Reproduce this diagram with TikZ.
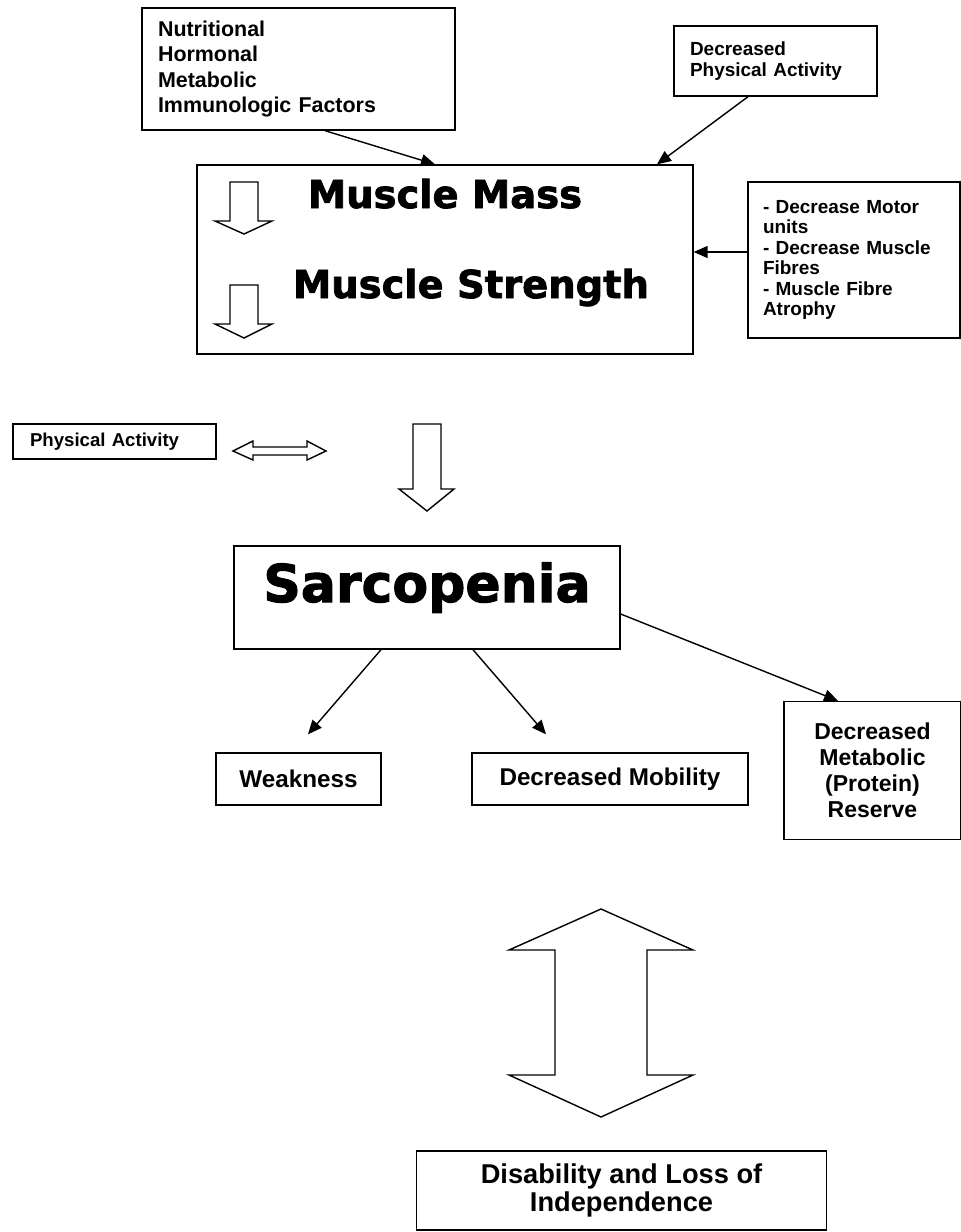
\documentclass[tikz,border=0pt]{standalone}
\usepackage{fontspec}
\setmainfont{Liberation Sans}
\newfontfamily\heavyfont[BoldFeatures={FakeBold=2}]{DejaVu Sans}
\usetikzlibrary{arrows.meta, calc}

\tikzset{
  box/.style={draw, line width=0.8pt, inner sep=0pt},
  link/.style={line width=0.8pt, -{Triangle[length=0.28cm, width=0.24cm]}},
  blockarrow/.style={draw, line width=0.8pt, line join=miter, fill=white}
}

\begin{document}
\begin{tikzpicture}[x=0.02cm, y=-0.02cm]
  \useasboundingbox (0,0) rectangle (961,1232);
  % causes
  \node[box, minimum width=6.26cm, minimum height=2.44cm, text width=5.62cm, align=left,
        font=\bfseries\fontsize{12.2}{14.5}\selectfont] (factors) at (298.5,69)
        {Nutritional\\Hormonal\\Metabolic\\Immunologic Factors};
  \node[box, minimum width=4.06cm, minimum height=1.4cm, text width=3.42cm, align=left,
        font=\bfseries\fontsize{10.8}{12}\selectfont] (inactivity) at (775.5,61)
        {Decreased\\Physical Activity};
  \node[box, minimum width=4.24cm, minimum height=3.12cm, text width=3.64cm, align=left,
        font=\bfseries\fontsize{10.8}{11.7}\selectfont] (motor) at (854,260)
        {- Decrease Motor\\units\\- Decrease Muscle\\Fibres\\- Muscle Fibre\\Atrophy};
  % muscle box
  \node[box, minimum width=9.92cm, minimum height=3.78cm] (muscle) at (445,259.5) {};
  \node[anchor=base, inner sep=0pt, font=\heavyfont\bfseries\fontsize{21.9}{26}\selectfont]
        (mass) at (445,208) {Muscle Mass};
  \node[anchor=base, inner sep=0pt, font=\heavyfont\bfseries\fontsize{21.9}{26}\selectfont]
        (strength) at (471,298) {Muscle Strength};
  \draw[blockarrow] (230,182) -- (258,182) -- (258,221) -- (272,221) -- (244,234)
        -- (215,221) -- (230,221) -- cycle;
  \draw[blockarrow] (230,285) -- (258,285) -- (258,324) -- (272,324) -- (244,338)
        -- (215,324) -- (230,324) -- cycle;
  \draw[link] ($(factors.south)+(26.5,0)$) -- ($(muscle.north)+(-10,0)$);
  \draw[link] ($(inactivity.south)+(-27.5,0)$) -- ($(muscle.north)+(212,0)$);
  \draw[link] ($(motor.west)+(0,-8)$) -- ($(muscle.east)+(0,-7.5)$);
  % physical activity
  \node[box, minimum width=4.06cm, minimum height=0.7cm, text width=3.38cm, align=left,
        font=\bfseries\fontsize{10.6}{12}\selectfont] (activity) at (114.5,441.5)
        {Physical Activity};
  \draw[blockarrow] (233,451) -- (253,441) -- (253,447) -- (307,447) -- (307,441)
        -- (326,451) -- (307,460) -- (307,455) -- (253,455) -- (253,460) -- cycle;
  \draw[blockarrow] (413,424) -- (441,424) -- (441,489) -- (454,489) -- (427,511)
        -- (399,489) -- (413,489) -- cycle;
  % sarcopenia
  \node[box, minimum width=7.72cm, text height=1.12cm, text depth=0.94cm,
        font=\heavyfont\bfseries\fontsize{29.6}{34}\selectfont] (sarco) at (427,597.5)
        {Sarcopenia};
  \node[box, minimum width=3.3cm, minimum height=1.04cm,
        font=\bfseries\fontsize{13.8}{16}\selectfont] (weakness) at (298.5,779) {Weakness};
  \node[box, minimum width=5.52cm, minimum height=1.04cm,
        font=\bfseries\fontsize{13.8}{16}\selectfont] (mobility) at (610,779) {Decreased Mobility};
  \node[box, minimum width=3.54cm, minimum height=2.76cm, align=center,
        font=\bfseries\fontsize{13.1}{14.8}\selectfont] (metabolic) at (872.5,770.5)
        {Decreased\\Metabolic\\(Protein)\\Reserve};
  \draw[link] ($(sarco.south)+(-46,0)$) -- ($(weakness.north)+(9.5,-18)$);
  \draw[link] ($(sarco.south)+(46,0)$) -- ($(mobility.north)+(-64,-18)$);
  \draw[link] ($(sarco.east)+(0,16.5)$) -- ($(metabolic.north)+(-34.5,0)$);
  % outcome
  \draw[blockarrow] (601,909) -- (693,950) -- (647,950) -- (647,1075) -- (693,1075)
        -- (601,1117) -- (509,1075) -- (555,1075) -- (555,950) -- (509,950) -- cycle;
  \node[box, minimum width=8.2cm, minimum height=1.58cm, align=center,
        font=\bfseries\fontsize{15.5}{15.8}\selectfont] (disability) at (621.5,1190.5)
        {Disability and Loss of\\Independence};
\end{tikzpicture}
\end{document}
